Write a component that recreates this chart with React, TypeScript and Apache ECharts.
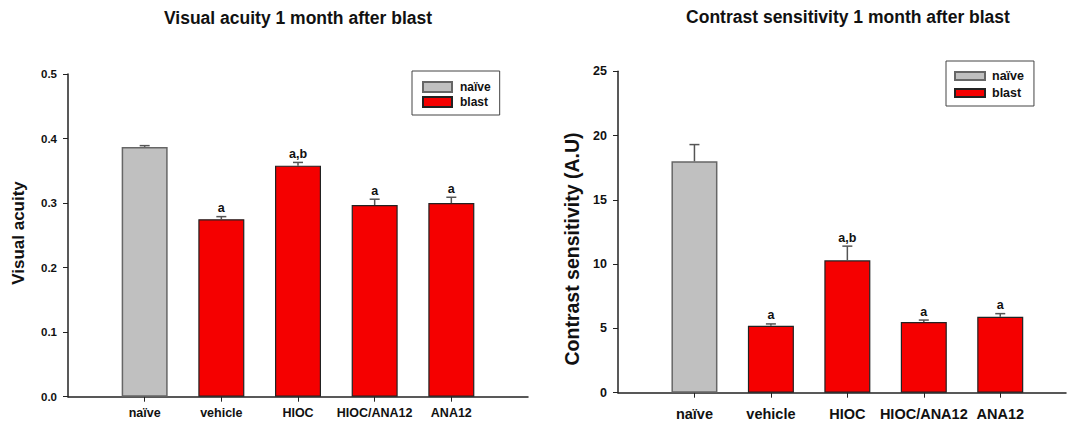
import React, { useEffect, useRef } from 'react';
import * as echarts from 'echarts';

const categories = ['naïve', 'vehicle', 'HIOC', 'HIOC/ANA12', 'ANA12'];
const acuityMean = [0.387, 0.275, 0.358, 0.297, 0.3];
const acuityErr = [0.002, 0.004, 0.005, 0.009, 0.009];
const acuityLetters = ['', 'a', 'a,b', 'a', 'a'];
const contrastMean = [18.0, 5.2, 10.3, 5.5, 5.9];
const contrastErr = [1.3, 0.15, 1.1, 0.15, 0.25];
const contrastLetters = ['', 'a', 'a,b', 'a', 'a'];
const legendNames = ['naïve', 'blast'];
const titles = ['Visual acuity 1 month after blast', 'Contrast sensitivity 1 month after blast'];
const yNames = ['Visual acuity', 'Contrast sensitivity (A.U)'];

const FONT = "'Liberation Sans', Arial, sans-serif";
const GREY = '#c0c0c0';
const RED = '#f50000';
const positions = categories.map((_, i) => i + 1);

function errorSeries(idx: number, means: number[], errs: number[], letters: string[], fs: number) {
  return {
    type: 'custom',
    xAxisIndex: idx,
    yAxisIndex: idx,
    clip: false,
    z: 5,
    data: positions.map((p, i) => [p, means[i], errs[i]]),
    renderItem: (params: any, api: any) => {
      const x = api.value(0);
      const m = api.value(1);
      const e = api.value(2);
      const base = api.coord([x, m]);
      const top = api.coord([x, m + e]);
      const children: any[] = [
        { type: 'line', shape: { x1: base[0], y1: base[1], x2: top[0], y2: top[1] }, style: { stroke: '#555', lineWidth: 1.5 } },
        { type: 'line', shape: { x1: top[0] - 5, y1: top[1], x2: top[0] + 5, y2: top[1] }, style: { stroke: '#555', lineWidth: 1.5 } },
      ];
      const t = letters[params.dataIndex];
      if (t) {
        children.push({
          type: 'text',
          x: top[0],
          y: top[1] - 2,
          style: { text: t, align: 'center', verticalAlign: 'bottom', font: `bold ${fs}px ${FONT}`, fill: '#111' },
        });
      }
      return { type: 'group', children };
    },
  };
}

function barSeries(idx: number, means: number[]) {
  return [
    {
      name: legendNames[0],
      type: 'bar',
      xAxisIndex: idx,
      yAxisIndex: idx,
      stack: 's' + idx,
      barWidth: 46,
      itemStyle: { color: GREY, borderColor: '#666', borderWidth: 1.5 },
      data: [[positions[0], means[0]]],
    },
    {
      name: legendNames[1],
      type: 'bar',
      xAxisIndex: idx,
      yAxisIndex: idx,
      stack: 's' + idx,
      barWidth: 46,
      itemStyle: { color: RED, borderColor: '#222', borderWidth: 1.2 },
      data: positions.slice(1).map((p, i) => [p, means[i + 1]]),
    },
  ];
}

function xAxis(idx: number, max: number, fs: number, margin: number) {
  return {
    type: 'value',
    gridIndex: idx,
    min: 0,
    max,
    splitLine: { show: false },
    axisLine: { show: true, onZero: false, lineStyle: { color: '#222', width: 1.5 } },
    axisTick: { show: true, customValues: positions, length: 5, lineStyle: { color: '#222', width: 1 } },
    axisLabel: {
      customValues: positions,
      formatter: (v: number) => categories[Math.round(v) - 1] ?? '',
      fontFamily: FONT,
      fontWeight: 'bold',
      fontSize: fs,
      color: '#111',
      margin,
    },
  };
}

function yAxis(idx: number, max: number, interval: number, digits: number, fs: number) {
  return {
    type: 'value',
    gridIndex: idx,
    min: 0,
    max,
    interval,
    splitLine: { show: false },
    axisLine: { show: true, lineStyle: { color: '#222', width: 1.5 } },
    axisTick: { show: true, length: 5, lineStyle: { color: '#222', width: 1 } },
    axisLabel: {
      formatter: (v: number) => v.toFixed(digits),
      fontFamily: FONT,
      fontWeight: 'bold',
      fontSize: fs,
      color: '#111',
      margin: 11,
    },
  };
}

export default function App() {
  const ref = useRef<HTMLDivElement>(null);
  useEffect(() => {
    if (!ref.current) return;
    const chart = echarts.init(ref.current, null, { renderer: 'svg' });
    chart.setOption({
      animation: false,
      backgroundColor: '#fff',
      grid: [
        { left: 68, top: 74, width: 460, bottom: 29.3, containLabel: false },
        { left: 618, top: 71.3, right: 2, bottom: 33.3, containLabel: false },
      ],
      xAxis: [xAxis(0, 6, 12.5, 10), xAxis(1, 5.86, 14.5, 14)],
      yAxis: [yAxis(0, 0.5, 0.1, 1, 11.5), yAxis(1, 25, 5, 0, 12.5)],
      legend: [
        {
          left: 412,
          top: 71,
          orient: 'vertical',
          data: legendNames,
          selectedMode: false,
          borderColor: '#444',
          borderWidth: 1,
          padding: [9, 9, 6, 10],
          itemWidth: 29,
          itemHeight: 10,
          itemGap: 1,
          icon: 'rect',
          textStyle: { fontFamily: FONT, fontWeight: 'bold', fontSize: 12, color: '#111', lineHeight: 14, padding: [0, 0, 0, 3] },
        },
        {
          left: 946,
          top: 61,
          orient: 'vertical',
          data: legendNames,
          selectedMode: false,
          borderColor: '#444',
          borderWidth: 1,
          padding: [8, 10, 6, 8],
          itemWidth: 30,
          itemHeight: 8,
          itemGap: 3,
          icon: 'rect',
          textStyle: { fontFamily: FONT, fontWeight: 'bold', fontSize: 12.5, color: '#111', lineHeight: 14, padding: [0, 0, 0, 2] },
        },
      ],
      graphic: [
        { type: 'text', x: 298, y: 18, style: { text: titles[0], align: 'center', verticalAlign: 'middle', font: `bold 17.5px ${FONT}`, fill: '#111' } },
        { type: 'text', x: 848, y: 17, style: { text: titles[1], align: 'center', verticalAlign: 'middle', font: `bold 17.5px ${FONT}`, fill: '#111' } },
        { type: 'text', x: 18, y: 233, rotation: Math.PI / 2, style: { text: yNames[0], align: 'center', verticalAlign: 'middle', font: `bold 17px ${FONT}`, fill: '#111' } },
        { type: 'text', x: 572, y: 249, rotation: Math.PI / 2, style: { text: yNames[1], align: 'center', verticalAlign: 'middle', font: `bold 19.5px ${FONT}`, fill: '#111' } },
      ],
      series: [
        ...barSeries(0, acuityMean),
        ...barSeries(1, contrastMean),
        errorSeries(0, acuityMean, acuityErr, acuityLetters, 12.5),
        errorSeries(1, contrastMean, contrastErr, contrastLetters, 12.5),
      ],
    });
    return () => chart.dispose();
  }, []);
  return <div ref={ref} style={{ position: 'absolute', left: 0, top: 0, width: 1068, height: 426 }} />;
}
